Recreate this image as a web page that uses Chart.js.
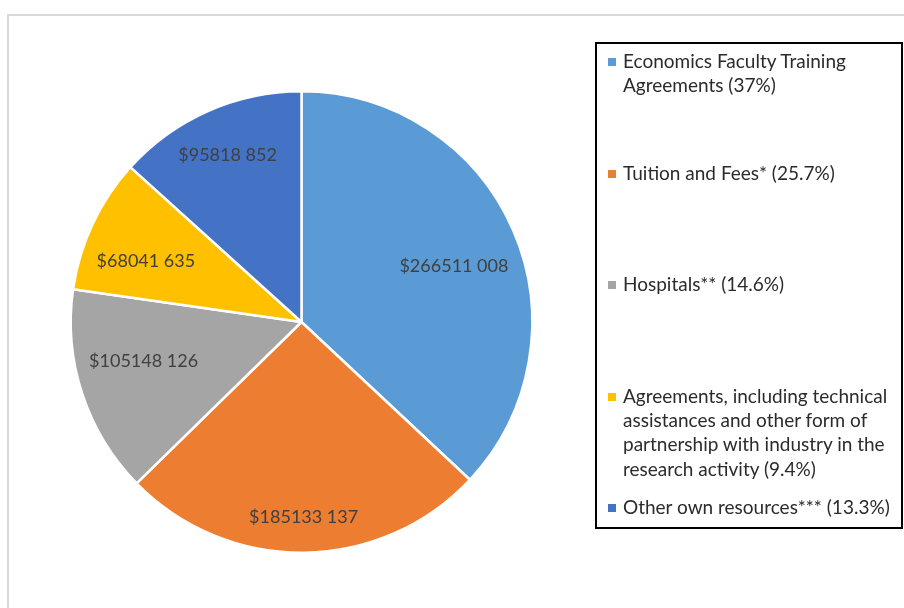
<!DOCTYPE html>
<html>
<head>
<meta charset="utf-8">
<script src="https://cdn.jsdelivr.net/npm/chart.js"></script>
<style>
  html, body { margin: 0; padding: 0; background: #fff; }
  body { width: 904px; height: 608px; position: relative; overflow: hidden; font-family: Lato, "Open Sans", sans-serif; }
  #frame { position: absolute; left: 7px; top: 14px; width: 920px; height: 620px; border: 2px solid #d9d9d9; }
  #wrap { position: absolute; left: 0; top: 0; width: 904px; height: 608px; }
  #legend { position: absolute; left: 595px; top: 42px; width: 304px; height: 483px; border: 2px solid #000; box-sizing: content-box; }
  #legend ul { list-style: none; margin: 0; padding: 5px 0 0 0; }
  #legend li { position: relative; height: 111.5px; padding-left: 26px; color: #2b2b2b; font-size: 19px; line-height: 24.4px; white-space: normal; }
  #legend li:last-child { height: auto; }
  #legend li span { position: absolute; left: 11px; top: 9px; width: 8px; height: 8px; }
</style>
</head>
<body>
<div id="frame"></div>
<div id="wrap"><canvas id="chart" width="904" height="608"></canvas></div>
<div id="legend"></div>
<script>
// revenue sources, in dollars
const sources = [
    'Economics Faculty Training Agreements',
    'Tuition and Fees*',
    'Hospitals**',
    'Agreements, including technical assistances and other form of partnership with industry in the research activity',
    'Other own resources***'
];
const shares = ['37%', '25.7%', '14.6%', '9.4%', '13.3%'];
const amounts = [266511008, 185133137, 105148126, 68041635, 95818852];
const colors = ['#5B9BD5', '#ED7D31', '#A5A5A5', '#FFC000', '#4472C4'];

const fmtAmount = v => '$' + Math.floor(v / 1000) + ' ' + String(v % 1000).padStart(3, '0');

// amount labels written inside each slice
const sliceLabels = {
    id: 'sliceLabels',
    afterDatasetsDraw(chart, args, opts) {
        const ctx = chart.ctx;
        const meta = chart.getDatasetMeta(0);
        ctx.save();
        ctx.font = opts.font;
        ctx.fillStyle = opts.color;
        ctx.textAlign = 'center';
        ctx.textBaseline = 'middle';
        meta.data.forEach((arc, i) => {
            const p = arc.getProps(['x', 'y', 'startAngle', 'endAngle', 'outerRadius'], true);
            const mid = (p.startAngle + p.endAngle) / 2;
            const r = p.outerRadius * opts.radius[i];
            const x = p.x + Math.cos(mid) * r;
            const y = p.y + Math.sin(mid) * r + opts.nudgeY[i];
            ctx.fillText(fmtAmount(chart.data.datasets[0].data[i]), x, y);
        });
        ctx.restore();
    }
};

const ctx = document.getElementById('chart').getContext('2d');
const chart = new Chart(ctx, {
    type: 'pie',
    data: {
        labels: sources,
        datasets: [
            {
                data: amounts,
                backgroundColor: colors,
                borderColor: '#ffffff',
                borderWidth: 2.5
            }
        ]
    },
    options: {
        responsive: false,
        animation: false,
        layout: {
            padding: { left: 69, top: 90, right: 370, bottom: 54 }
        },
        plugins: {
            legend: { display: false },
            tooltip: { enabled: false },
            title: { display: false },
            sliceLabels: {
                font: '18px Lato',
                color: '#404040',
                radius: [0.72, 0.845, 0.72, 0.745, 0.79],
                nudgeY: [10, 0, -12, 12, 0]
            }
        }
    },
    plugins: [sliceLabels]
});

// legend box on the right
const ul = document.createElement('ul');
chart.data.labels.forEach((label, i) => {
    const li = document.createElement('li');
    const box = document.createElement('span');
    box.style.background = colors[i];
    li.appendChild(box);
    li.appendChild(document.createTextNode(label + ' (' + shares[i] + ')'));
    ul.appendChild(li);
});
document.getElementById('legend').appendChild(ul);
</script>
</body>
</html>
